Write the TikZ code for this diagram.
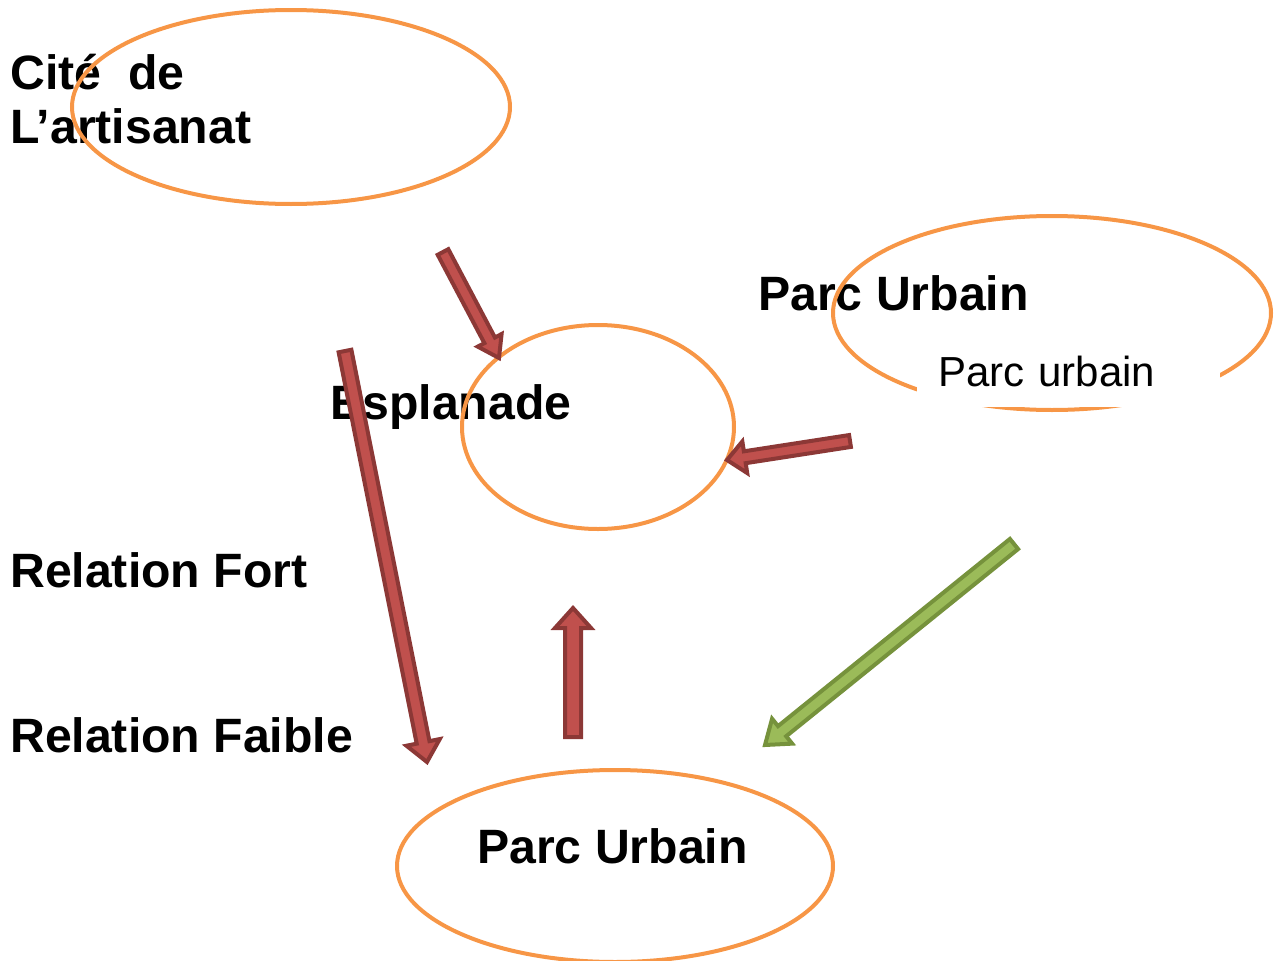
\documentclass[tikz,border=0pt]{standalone}
\usepackage{fontspec}
\setmainfont{Liberation Sans}
\usetikzlibrary{shapes.geometric,calc}
\definecolor{orangec}{HTML}{F79646}
\definecolor{redfill}{HTML}{C0504D}
\definecolor{reddraw}{HTML}{8C3836}
\definecolor{greenfill}{HTML}{9BBB59}
\definecolor{greendraw}{HTML}{76923C}
\tikzset{
  oval/.style={ellipse, draw=orangec, line width=4pt, inner sep=0pt},
  lblb/.style={font=\fontsize{48.2}{54}\selectfont\bfseries, inner sep=0pt, anchor=base west},
  lblr/.style={font=\fontsize{42}{48}\selectfont, inner sep=0pt},
  redarr/.style={fill=redfill, draw=reddraw, line width=4pt, line join=miter},
  greenarr/.style={fill=greenfill, draw=greendraw, line width=4pt, line join=miter}
}
% #1 tail, #2 tip, #3 shaft half width, #4 head half width, #5 head length, #6 style
\newcommand{\blockarr}[6]{%
  \coordinate (hb) at ($(#2)!#5!(#1)$);
  \draw[#6] ($(#1)!#3!90:(#2)$) -- ($(hb)!#3!90:(#2)$) -- ($(hb)!#4!90:(#2)$) -- (#2)
    -- ($(hb)!#4!-90:(#2)$) -- ($(hb)!#3!-90:(#2)$) -- ($(#1)!#3!-90:(#2)$) -- cycle;}
\begin{document}
\begin{tikzpicture}[x=1pt,y=-1pt]
\useasboundingbox (0,0) rectangle (1278,961);
% text labels
\node[lblb] (cite) at (10,89) {Cité\ \ de};
\node[lblb] (artis) at (10,143) {L’artisanat};
\node[lblb] (espl) at (330,419) {Esplanade};
\node[lblb] (parcU1) at (758,310) {Parc Urbain};
\node[lblb] (fort) at (10,587) {Relation Fort};
\node[lblb] (faible) at (10,752) {Relation Faible};
\node[lblb] (parcU2) at (477,863) {Parc Urbain};
% ellipses
\node[oval, minimum width=438pt, minimum height=194pt] (e1) at (291,107) {};
\node[oval, minimum width=272pt, minimum height=204pt] (e2) at (598,427) {};
\node[oval, minimum width=438pt, minimum height=194pt] (e3) at (1052,313) {};
\node[oval, minimum width=436pt, minimum height=192pt] (e4) at (615,866) {};
% white text box
\node[lblr, fill=white, anchor=north west, minimum width=303pt, minimum height=72pt,
      text width=303pt, align=left] (parcu) at (917,335) {\hspace*{21pt}Parc urbain};
% arrows
\coordinate (a1t) at (443,252); \coordinate (a1h) at (499,358);
\coordinate (a2t) at (850,441); \coordinate (a2h) at (727,460);
\coordinate (a3t) at (345,351); \coordinate (a3h) at (427,762);
\coordinate (a4t) at (573,737); \coordinate (a4h) at (573,608);
\coordinate (a5t) at (1014,544); \coordinate (a5h) at (765,745);
\blockarr{a1t}{a1h}{6pt}{13.5pt}{20pt}{redarr}
\blockarr{a2t}{a2h}{6pt}{16pt}{18pt}{redarr}
\blockarr{a3t}{a3h}{6.5pt}{17pt}{20pt}{redarr}
\blockarr{a4t}{a4h}{8pt}{18pt}{20pt}{redarr}
\blockarr{a5t}{a5h}{6.5pt}{16pt}{22pt}{greenarr}
\end{tikzpicture}
\end{document}
